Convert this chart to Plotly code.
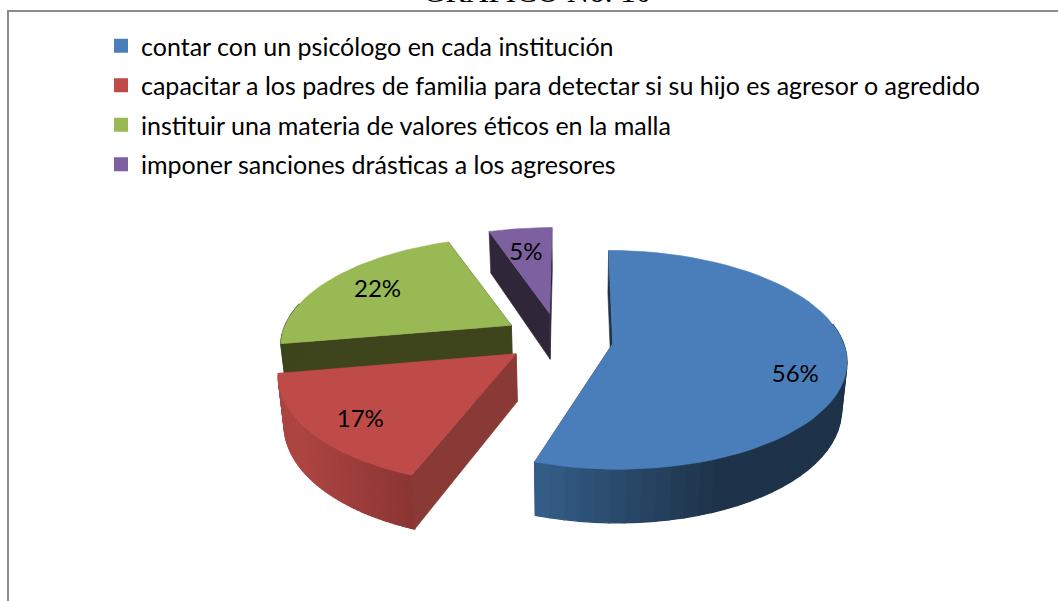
import numpy as np
import plotly.graph_objects as go

# ---- data ----
categories = [
    "contar con un psicólogo en cada institución",
    "capacitar a los padres de familia para detectar si su hijo es agresor o agredido",
    "instituir una materia de valores éticos en la malla",
    "imponer sanciones drásticas a los agresores",
]
values = [56, 17, 22, 5]
title_text = "GRÁFICO No. 10"

# ---- styles ----
top_colors = ["#4a7ebb", "#be4b48", "#98b954", "#7d60a0"]
edge_colors = ["#1e3349", "#8a3a36", "#3e451d", "#2f2639"]
wall_left = ["#35608c", "#ad4542", "#3e451d", "#2f2639"]
wall_right = ["#1e3349", "#853331", "#3e451d", "#2f2639"]
pulls = [0.241, 0.225, 0.245, 0.25]
end_trim = [3.0, 0, 1.5, 0]
label_r = [0.795, 0.80, 0.74, 0.70]
label_turn = [7, -3, 0, -1]
arc_drop = [0.03, 0.05, 0.05, 0.05]

# ---- projection of the tilted pie onto the page ----
RX, CX, CY, PX, DEPTH_Y, K, HEIGHT, SHRINK = 230, 558, 339, 573, 914, 0.116, 47, 0.98


def project(x, y, down=0.0):
    x, y = np.asarray(x, float), np.asarray(y, float)
    w = 1 + K * y
    sx = PX + (CX + RX * x - PX) / w
    sy = CY - DEPTH_Y + DEPTH_Y / w
    if down:
        sx = PX + (sx - PX) * (1 - (1 - SHRINK) * down)
        sy = sy + down * HEIGHT / w
    return sx, sy


def mix(c1, c2, t):
    a = [int(c1[i:i + 2], 16) for i in (1, 3, 5)]
    b = [int(c2[i:i + 2], 16) for i in (1, 3, 5)]
    return "rgb(%d,%d,%d)" % tuple(round(p + (q - p) * t) for p, q in zip(a, b))


def poly(xs, ys, color, lw=0.6):
    return go.Scatter(
        x=list(xs) + [xs[0]], y=list(ys) + [ys[0]], mode="lines", fill="toself",
        fillcolor=color, line=dict(color=color, width=lw),
        showlegend=False, hoverinfo="skip",
    )


fig = go.Figure()
total = sum(values)
starts = np.cumsum([0] + values[:-1]) / total * 360
spans = np.array(values) / total * 360
labels_x, labels_y, labels_t = [], [], []

# drawn back to front: purple, green, red, blue
for i in [3, 2, 1, 0]:
    th0 = starts[i]
    th1 = starts[i] + spans[i] - end_trim[i]
    mid = np.radians(starts[i] + spans[i] / 2)
    vx, vy = pulls[i] * np.sin(mid), pulls[i] * np.cos(mid)
    th = np.radians(np.linspace(th0, th1, 60))
    ax, ay = vx + np.sin(th), vy - arc_drop[i] + np.cos(th)

    # radial walls
    for k in (0, -1):
        xs = [vx, ax[k]]
        ys = [vy, ay[k]]
        tx, ty = project(xs, ys)
        bx, by = project(xs, ys, 1.0)
        fig.add_trace(poly([tx[0], tx[1], bx[1], bx[0]], [ty[0], ty[1], by[1], by[0]], edge_colors[i]))

    # outer wall, shaded band by band
    tx, ty = project(ax, ay)
    bx, by = project(ax, ay, 1.0)
    for j in range(len(th) - 1):
        if np.cos(th[j]) > 0.25:
            continue
        shade = np.clip((tx[j] - 300 if i == 1 else tx[j] - 534) / (130 if i == 1 else 190), 0, 1)
        c = mix(wall_left[i], wall_right[i], shade)
        fig.add_trace(poly([tx[j], tx[j + 1], bx[j + 1], bx[j]], [ty[j], ty[j + 1], by[j + 1], by[j]], c, 1.2))

    # top face
    vsx, vsy = project([vx], [vy])
    fig.add_trace(poly(list(vsx) + list(tx), list(vsy) + list(ty), top_colors[i]))

    lt = mid + np.radians(label_turn[i])
    lx, ly = project([vx + label_r[i] * np.sin(lt)], [vy - 0.05 + label_r[i] * np.cos(lt)])
    labels_x.append(lx[0])
    labels_y.append(ly[0])
    labels_t.append(f"{values[i]}%")

fig.add_trace(go.Scatter(
    x=labels_x, y=labels_y, text=labels_t, mode="text",
    textfont=dict(family="Lato", size=24, color="#000000"),
    textposition="middle center", showlegend=False, hoverinfo="skip",
))

# legend entries
for name, color in zip(categories, top_colors):
    fig.add_trace(go.Scatter(
        x=[None], y=[None], mode="markers", name=name, legendgroup=name,
        marker=dict(symbol="square", size=14, color=color),
    ))

fig.update_layout(
    width=1058, height=601,
    margin=dict(l=0, r=0, t=0, b=0),
    paper_bgcolor="white", plot_bgcolor="white",
    xaxis=dict(range=[0, 1058], visible=False, fixedrange=True),
    yaxis=dict(range=[601, 0], visible=False, fixedrange=True),
    showlegend=True,
    legend=dict(
        x=101 / 1058, y=1 - 23 / 601, xanchor="left", yanchor="top",
        font=dict(family="Lato", size=25, color="#000000"),
        bgcolor="rgba(0,0,0,0)", tracegroupgap=4, traceorder="grouped",
    ),
    annotations=[dict(
        text=title_text, xref="x", yref="y", x=537, y=11, xanchor="center", yanchor="bottom",
        showarrow=False, font=dict(family="Liberation Serif", size=31, color="#000000"),
    )],
    shapes=[
        dict(type="line", xref="x", yref="y", x0=8, x1=1058, y0=11, y1=11,
             line=dict(color="#8c8c8c", width=2)),
        dict(type="line", xref="x", yref="y", x0=8, x1=8, y0=10, y1=601,
             line=dict(color="#8c8c8c", width=2)),
    ],
)

fig.write_html(
    "out.html",
    config={"displayModeBar": False},
    post_script="document.body.style.margin='0';document.body.style.overflow='hidden';",
)
